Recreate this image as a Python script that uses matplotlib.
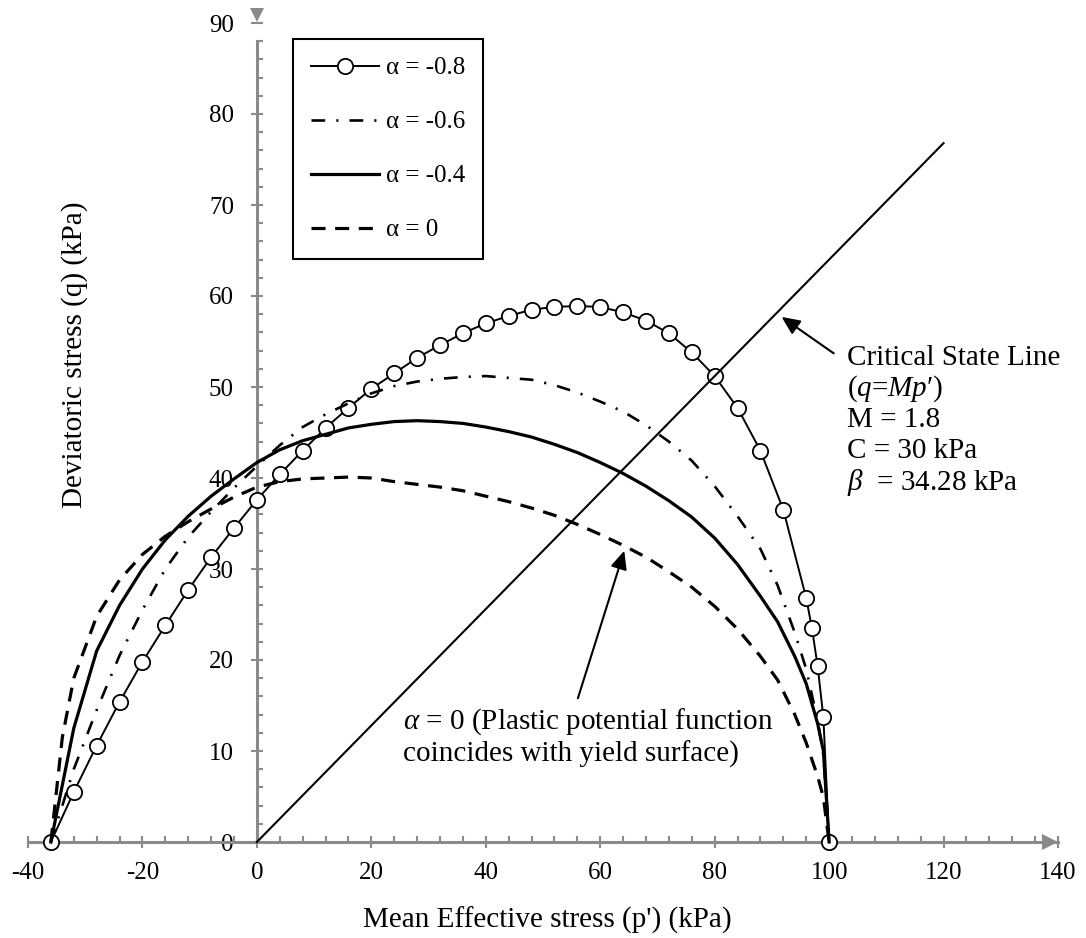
import matplotlib.pyplot as plt
from matplotlib.ticker import MultipleLocator

plt.rcParams['font.family'] = ['Liberation Serif', 'DejaVu Serif']
plt.rcParams['mathtext.fontset'] = 'custom'
plt.rcParams['mathtext.rm'] = 'Liberation Serif'
plt.rcParams['mathtext.it'] = 'Liberation Serif:italic'
plt.rcParams['axes.unicode_minus'] = False

# alpha = -0.8 (circles)
p_a08 = [-36, -32, -28, -24, -20, -16, -12, -8, -4, 0, 4, 8, 12, 16, 20, 24, 28, 32, 36, 40,
         44, 48, 52, 56, 60, 64, 68, 72, 76, 80, 84, 88, 92, 96, 97, 98, 99, 100]
q_a08 = [0, 5.5, 10.6, 15.4, 19.8, 23.8, 27.7, 31.3, 34.5, 37.6, 40.4, 43.0, 45.5, 47.7, 49.8,
         51.5, 53.2, 54.6, 55.9, 57.0, 57.8, 58.5, 58.8, 58.9, 58.8, 58.2, 57.3, 55.9, 53.8,
         51.2, 47.7, 43.0, 36.5, 26.8, 23.5, 19.3, 13.7, 0]

# alpha = -0.6 (dash-dot)
p_a06 = [-36, -32, -28, -24, -20, -16, -12, -8, -4, 0, 4, 8, 12, 16, 20, 24, 28, 32, 36, 40,
         44, 48, 52, 56, 60, 64, 68, 72, 76, 80, 84, 88, 91, 94, 96, 98, 99, 100]
q_a06 = [0, 8.0, 14.5, 20.5, 25.5, 30.0, 33.5, 36.3, 38.9, 41.3, 43.6, 45.6, 47.0, 48.2, 49.3,
         50.1, 50.6, 50.9, 51.1, 51.2, 51.0, 50.8, 50.2, 49.4, 48.4, 47.3, 45.8, 44.0, 41.9,
         39.1, 35.8, 32.2, 28.2, 23.0, 19.0, 13.3, 9.6, 0]

# alpha = -0.4 (thick solid)
p_a04 = [-36, -32, -28, -24, -20, -16, -12, -8, -4, 0, 4, 8, 12, 16, 20, 24, 28, 32, 36, 40,
         44, 48, 52, 56, 60, 64, 68, 72, 76, 80, 84, 88, 91, 94, 96, 98, 99, 100]
q_a04 = [0, 12.5, 21.0, 26.0, 30.0, 33.2, 35.8, 38.0, 39.9, 41.7, 43.1, 44.1, 44.8, 45.5, 45.9,
         46.2, 46.3, 46.2, 46.0, 45.6, 45.1, 44.5, 43.7, 42.8, 41.7, 40.5, 39.1, 37.5, 35.7,
         33.4, 30.5, 27.0, 24.2, 20.4, 17.4, 13.0, 10.0, 0]

# alpha = 0 (dashed)
p_a0 = [-36, -34, -32, -28, -24, -20, -16, -12, -8, -4, 0, 4, 8, 12, 16, 20, 24, 28, 32, 36, 40,
        44, 48, 52, 56, 60, 64, 68, 72, 76, 80, 84, 88, 91, 94, 96, 98, 99, 100]
q_a0 = [0, 11.5, 18.0, 24.8, 28.8, 31.6, 33.6, 35.2, 36.6, 37.9, 39.0, 39.6, 39.9, 40.0, 40.1,
        40.0, 39.6, 39.3, 39.0, 38.6, 38.0, 37.4, 36.7, 35.9, 34.9, 33.8, 32.6, 31.3, 29.7,
        28.0, 25.9, 23.4, 20.4, 17.8, 14.0, 10.9, 7.2, 4.9, 0]

# critical state line end points
csl_p = [0, 120]
csl_q = [0, 76.8]

gray = '#8a8a8a'
fs_tick = 18
fs_text = 21

fig = plt.figure(figsize=(10.86, 9.38), dpi=100)
ax = fig.add_axes([28 / 1086, 96 / 938, 1030 / 1086, 819 / 938])
ax.set_xlim(-40, 140)
ax.set_ylim(0, 90)

ax.plot(p_a08, q_a08, color='black', lw=1.4, marker='o', ms=11, mfc='white', mec='black',
        mew=1.3, label='α = -0.8', zorder=3, clip_on=False)
ax.plot(p_a06, q_a06, color='black', lw=1.9, dashes=(5.2, 4.2, 0.8, 4.2),
        label='α = -0.6', zorder=3, clip_on=False)
ax.plot(p_a04, q_a04, color='black', lw=2.3, label='α = -0.4', zorder=3, clip_on=False)
ax.plot(p_a0, q_a0, color='black', lw=2.3, dashes=(4.4, 3.0), label='α = 0', zorder=3,
        clip_on=False)
ax.plot(csl_p, csl_q, color='black', lw=1.5, zorder=4, clip_on=False)

# axes through the origin
for s in ['top', 'right']:
    ax.spines[s].set_visible(False)
for s in ['left', 'bottom']:
    ax.spines[s].set_position(('data', 0))
    ax.spines[s].set_color(gray)
    ax.spines[s].set_linewidth(2.2)
ax.spines['left'].set_bounds(0, 88)
ax.spines['bottom'].set_bounds(-40, 140)

ax.xaxis.set_major_locator(MultipleLocator(20))
ax.xaxis.set_minor_locator(MultipleLocator(4))
ax.yaxis.set_major_locator(MultipleLocator(10))
ax.yaxis.set_minor_locator(MultipleLocator(2))
ax.tick_params(which='major', direction='inout', length=9, width=1.5, color=gray,
               labelsize=fs_tick, labelcolor='black')
ax.tick_params(axis='x', which='major', pad=10)
ax.tick_params(axis='y', which='major', pad=12)
ax.tick_params(which='minor', direction='in', length=4.5, width=1.5, color=gray)

# axis arrow heads
xmax = ax.get_xlim()[1]
ymax = ax.get_ylim()[1]
ax.plot([xmax - 1.4], [0], marker='>', ms=11.5, color=gray, mew=0, clip_on=False, zorder=2)
ax.plot([0], [ymax + 0.85], marker='v', ms=10.5, color=gray, mew=0, clip_on=False, zorder=2)

fig.text(547 / 1086, 1 - 920 / 938, "Mean Effective stress (p') (kPa)", fontsize=fs_text,
         ha='center', va='center')
fig.text(75 / 1086, 1 - 355 / 938, 'Deviatoric stress (q) (kPa)', fontsize=fs_text,
         ha='center', va='center', rotation=90)

leg = ax.legend(loc='upper left', bbox_to_anchor=(293 / 1086, 1 - 39 / 938),
                bbox_transform=fig.transFigure, fontsize=fs_tick, frameon=True, fancybox=False,
                edgecolor='black', framealpha=1, handlelength=2.7, handletextpad=0.3,
                borderpad=0.72, labelspacing=1.26, borderaxespad=0)
leg.get_frame().set_linewidth(1.5)

# annotations
arrow = dict(arrowstyle='-|>,head_length=0.55,head_width=0.25', color='black', lw=1.5,
             mutation_scale=20, shrinkA=0, shrinkB=0)
ax.annotate('', xy=(91.7, 57.7), xytext=(100.8, 53.7), arrowprops=arrow)
ax.annotate('', xy=(64.2, 32.0), xytext=(56.1, 15.8), arrowprops=arrow)

csl_lines = ['Critical State Line', "($q$=$Mp$′)", 'M = 1.8', 'C = 30 kPa',
             r'$\beta$  = 34.28 kPa']
for i, t in enumerate(csl_lines):
    ax.text(103.2, (842 - 358 - 31 * i) / 9.1, t, fontsize=fs_text, ha='left', va='center')

ax.text(25.5, 13.2, r'$\alpha$ = 0 (Plastic potential function', fontsize=fs_text,
        ha='left', va='center')
ax.text(25.5, 9.6, 'coincides with yield surface)', fontsize=fs_text, ha='left', va='center')

fig.savefig('out.png', dpi=100)
